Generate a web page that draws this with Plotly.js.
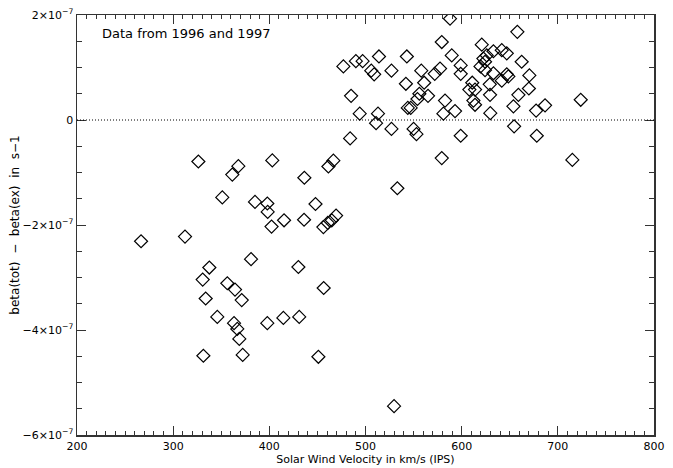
<!DOCTYPE html>
<html>
<head>
<meta charset="utf-8">
<script src="https://cdn.plot.ly/plotly-3.0.1.min.js"></script>
<style>html,body{margin:0;padding:0;background:#fff;}#chart{width:673px;height:468px;}</style>
</head>
<body>
<div id="chart"></div>
<script>
// Solar wind velocity (km/s)
const velocity = [
  266.6, 312.3, 326.2, 367.8, 361.5, 403.1, 436.4, 466.6, 461.4, 351.1,
  385.1, 397.9, 398.3, 448.0, 415.3, 436.1, 402.3, 456.2, 460.8, 464.9,
  469.4, 381.0, 430.2, 337.6, 330.7, 356.3, 364.3, 456.5, 333.8, 371.3,
  345.9, 363.3, 366.7, 368.8, 397.9, 414.6, 431.1, 331.4, 372.3, 451.0,
  529.7, 579.3, 533.1, 715.1,
  587.9, 657.9, 620.9, 633.0, 641.7, 646.9, 626.1, 622.6, 624.3, 579.3,
  589.7, 662.4, 577.5, 599.0, 599.0, 619.6, 624.3, 633.0, 646.9, 648.6,
  641.7, 670.4, 611.0, 608.0, 613.9, 629.2, 669.9, 629.5, 659.0, 582.7,
  593.1, 581.0, 612.2, 613.9, 653.8, 686.7, 677.4, 723.8, 629.8, 599.0,
  654.5, 678.1,
  477, 490, 497, 485, 484, 494, 506, 509, 514, 513,
  511, 527, 527, 543, 542, 544, 547, 550, 553, 554,
  556, 558, 561, 565, 572
];
// beta(tot) - beta(ex) in s-1
const betaDiff = [
  -2.31e-7, -2.22e-7, -0.79e-7, -0.88e-7, -1.04e-7, -0.77e-7, -1.10e-7, -0.775e-7, -0.885e-7, -1.475e-7,
  -1.56e-7, -1.59e-7, -1.75e-7, -1.60e-7, -1.91e-7, -1.90e-7, -2.03e-7, -2.04e-7, -1.96e-7, -1.91e-7,
  -1.82e-7, -2.65e-7, -2.80e-7, -2.81e-7, -3.04e-7, -3.11e-7, -3.23e-7, -3.20e-7, -3.40e-7, -3.43e-7,
  -3.75e-7, -3.87e-7, -3.98e-7, -4.17e-7, -3.87e-7, -3.77e-7, -3.75e-7, -4.49e-7, -4.475e-7, -4.51e-7,
  -5.45e-7, -0.725e-7, -1.30e-7, -0.76e-7,
  1.93e-7, 1.68e-7, 1.435e-7, 1.31e-7, 1.33e-7, 1.27e-7, 1.23e-7, 1.17e-7, 1.11e-7, 1.485e-7,
  1.23e-7, 1.11e-7, 0.98e-7, 1.04e-7, 0.88e-7, 1.02e-7, 0.95e-7, 0.89e-7, 0.87e-7, 0.83e-7,
  0.75e-7, 0.85e-7, 0.71e-7, 0.58e-7, 0.58e-7, 0.68e-7, 0.60e-7, 0.48e-7, 0.48e-7, 0.37e-7,
  0.17e-7, 0.12e-7, 0.37e-7, 0.29e-7, 0.26e-7, 0.28e-7, 0.18e-7, 0.385e-7, 0.13e-7, -0.30e-7,
  -0.12e-7, -0.30e-7,
  1.02e-7, 1.12e-7, 1.12e-7, 0.46e-7, -0.35e-7, 0.12e-7, 0.94e-7, 0.87e-7, 1.21e-7, 0.12e-7,
  -0.06e-7, 0.94e-7, -0.17e-7, 1.21e-7, 0.69e-7, 0.23e-7, 0.23e-7, -0.17e-7, -0.27e-7, 0.40e-7,
  0.50e-7, 0.94e-7, 0.71e-7, 0.46e-7, 0.88e-7
];
const xTickVals = [200, 300, 400, 500, 600, 700, 800];
const yTickVals = [-6e-7, -4e-7, -2e-7, 0, 2e-7];
const yTickText = ['−6×10<sup>−7</sup>', '−4×10<sup>−7</sup>', '−2×10<sup>−7</sup>', '0', '2×10<sup>−7</sup>'];

const FONT = 'DejaVu Sans, sans-serif';
const axisColor = '#333';

const trace = {
  type: 'scatter',
  mode: 'markers',
  x: velocity,
  y: betaDiff,
  marker: { symbol: 'diamond-open', size: 10, color: '#000', line: { color: '#000', width: 1.2 } },
  hoverinfo: 'x+y'
};

const layout = {
  width: 673,
  height: 468,
  margin: { l: 77, r: 19, t: 15, b: 33 },
  paper_bgcolor: '#fff',
  plot_bgcolor: '#fff',
  showlegend: false,
  font: { family: FONT, size: 11, color: '#000' },
  xaxis: {
    range: [200, 800],
    tickmode: 'array',
    tickvals: xTickVals,
    ticks: 'inside',
    ticklen: 9,
    tickwidth: 1,
    tickcolor: axisColor,
    mirror: 'ticks',
    showline: true,
    linecolor: axisColor,
    linewidth: 1.5,
    showgrid: false,
    zeroline: false,
    tickfont: { family: FONT, size: 11, color: '#000' },
    minor: { dtick: 10, ticks: 'inside', ticklen: 4, tickcolor: axisColor, showgrid: false },
    title: { text: 'Solar Wind Velocity in km/s (IPS)', font: { family: FONT, size: 11, color: '#000' }, standoff: 2 },
    automargin: false
  },
  yaxis: {
    range: [-6e-7, 2e-7],
    tickmode: 'array',
    tickvals: yTickVals,
    ticktext: yTickText,
    ticks: 'inside',
    ticklen: 9,
    tickwidth: 1,
    tickcolor: axisColor,
    mirror: 'ticks',
    showline: true,
    linecolor: axisColor,
    linewidth: 1.5,
    showgrid: false,
    zeroline: false,
    tickfont: { family: FONT, size: 11, color: '#000' },
    minor: { dtick: 5e-8, ticks: 'inside', ticklen: 5, tickcolor: axisColor, showgrid: false },
    title: { text: 'beta(tot)  −  beta(ex)  in  s−1', font: { family: FONT, size: 12, color: '#000' }, standoff: 0 },
    automargin: false
  },
  shapes: [{
    type: 'line', xref: 'paper', yref: 'y', x0: 0, x1: 1, y0: 0, y1: 0,
    line: { color: '#000', width: 1, dash: '1px,2px' }
  }],
  annotations: [{
    text: 'Data from 1996 and 1997',
    xref: 'paper', yref: 'paper', x: 0.04, y: 0.955, xanchor: 'left', yanchor: 'middle',
    showarrow: false, font: { family: FONT, size: 13, color: '#000' }
  }]
};

Plotly.newPlot('chart', [trace], layout, { displayModeBar: false, staticPlot: true });
</script>
</body>
</html>
